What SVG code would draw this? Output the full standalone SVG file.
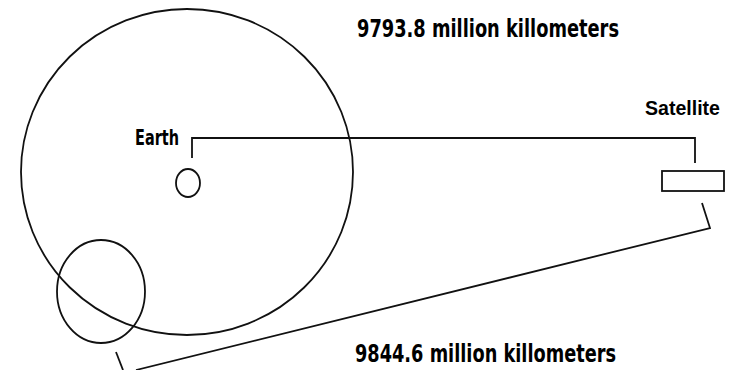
<svg xmlns="http://www.w3.org/2000/svg" width="729" height="370" viewBox="0 0 729 370">
<style>
.s{fill:none;stroke:#111;stroke-width:1.8}
.t{font-family:"DejaVu Sans","Liberation Sans",sans-serif;font-weight:bold;fill:#000}
.n{font-family:"Liberation Sans",Arial,sans-serif}
</style>
<rect width="729" height="370" fill="#fff"/>
<g id="orbit"><ellipse class="s" cx="187" cy="172" rx="166" ry="163"/></g>
<g id="earth"><ellipse class="s" cx="188" cy="183" rx="12" ry="14"/><text class="t" x="135" y="145" font-size="22" textLength="44" lengthAdjust="spacingAndGlyphs">Earth</text></g>
<g id="earth2"><ellipse class="s" cx="101" cy="291.5" rx="44" ry="51.5"/></g>
<g id="satellite"><rect class="s" x="662" y="171" width="62" height="20"/><text class="t n" x="645" y="115" font-size="20" textLength="75" lengthAdjust="spacingAndGlyphs">Satellite</text></g>
<g id="label1"><text class="t" x="357" y="37" font-size="24" textLength="262" lengthAdjust="spacingAndGlyphs">9793.8 million killometers</text></g>
<g id="label2"><text class="t" x="355" y="362" font-size="24" textLength="261" lengthAdjust="spacingAndGlyphs">9844.6 million killometers</text></g>
<g id="connectors">
<polyline class="s" points="192,158 192,138 695,138 695,163"/>
<polyline class="s" points="702,203 710,228 136,370"/>
<line class="s" x1="116" y1="352" x2="123" y2="370"/>
</g>
</svg>
